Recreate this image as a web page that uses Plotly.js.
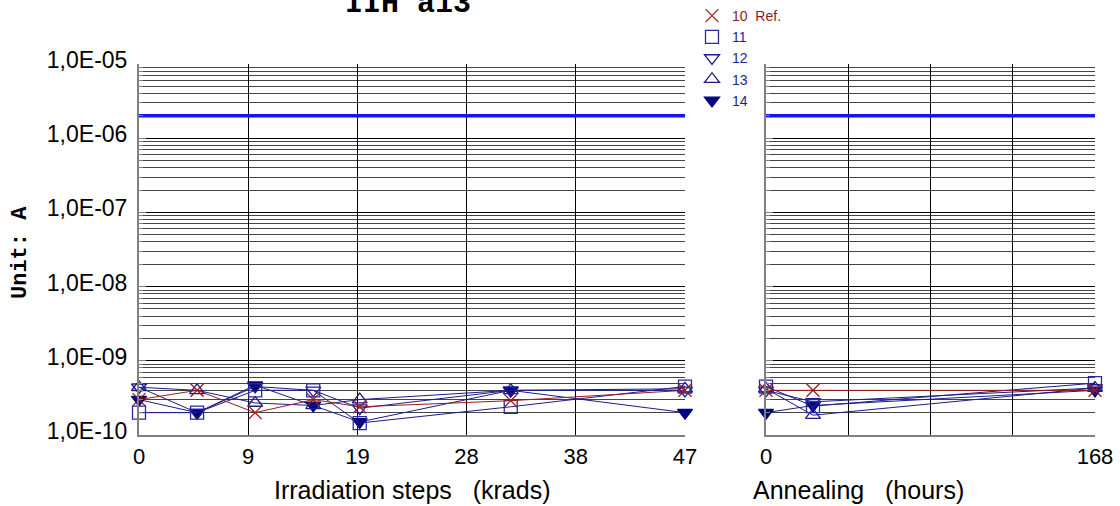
<!DOCTYPE html>
<html><head><meta charset="utf-8">
<script src="https://cdn.plot.ly/plotly-3.0.1.min.js"></script>
<style>html,body{margin:0;padding:0;background:#fff}#chart{width:1120px;height:506px}</style>
</head><body><div id="chart"></div>
<script>
// ---- data ----
const irrSteps = [0, 5, 10, 15, 19, 32, 47];
const annealHours = [0, 24, 168];
const seriesNames = ['10\u00a0\u00a0Ref.', '11', '12', '13', '14'];

const irr10 = [3.0e-10, 4.0e-10, 2.0e-10, 3.0e-10, 2.4e-10, 2.9e-10, 4.0e-10];
const irr11 = [2.0e-10, 2.0e-10, 4.0e-10, 4.0e-10, 1.45e-10, 2.4e-10, 4.5e-10];
const irr12 = [4.4e-10, 2.0e-10, 4.5e-10, 4.0e-10, 2.3e-10, 4.0e-10, 4.0e-10];
const irr13 = [4.4e-10, 4.0e-10, 2.7e-10, 2.5e-10, 3.0e-10, 4.0e-10, 4.2e-10];
const irr14 = [3.0e-10, 2.0e-10, 4.7e-10, 2.5e-10, 1.5e-10, 4.0e-10, 2.0e-10];

const ann10 = [4.0e-10, 4.0e-10, 4.0e-10];
const ann11 = [4.5e-10, 2.45e-10, 5.0e-10];
const ann12 = [4.0e-10, 2.8e-10, 4.3e-10];
const ann13 = [4.2e-10, 1.85e-10, 4.3e-10];
const ann14 = [2.0e-10, 2.5e-10, 4.0e-10];

const limitValue = [2e-6, 2e-6];
const limitIrrX = [0, 47];
const limitAnnX = [0, 168];

const irrTickVals = [0, 9.4, 18.8, 28.2, 37.6, 47];
const irrTickText = ['0', '9', '19', '28', '38', '47'];
const annTickVals = [0, 42, 84, 126, 168];
const annTickText = ['0', '', '', '', '168'];
const yTickVals = [1e-10, 1e-9, 1e-8, 1e-7, 1e-6, 1e-5];
const yTickText = ['1,0E-10', '1,0E-09', '1,0E-08', '1,0E-07', '1,0E-06', '1,0E-05'];

// ---- styles ----
const RED = '#9c1c1c';
const NAVY = '#1c1c8c';
const DARK = '#000080';
const styles = [
  {color: RED, symbol: 'x-thin-open', line: RED},
  {color: '#2a2a9c', symbol: 'square-open', line: NAVY},
  {color: NAVY, symbol: 'triangle-down-open', line: NAVY},
  {color: NAVY, symbol: 'triangle-up-open', line: NAVY},
  {color: DARK, symbol: 'triangle-down', line: NAVY}
];
const irrSeries = [irr10, irr11, irr12, irr13, irr14];
const annSeries = [ann10, ann11, ann12, ann13, ann14];

const minorVals = [];
for (let e = -10; e < -5; e++) for (let m = 2; m <= 9; m++) minorVals.push(m * Math.pow(10, e));

const traces = [];
traces.push({x: limitIrrX, y: limitValue, xaxis: 'x', yaxis: 'y', mode: 'lines',
  line: {color: '#1515f0', width: 3.5}, showlegend: false, hoverinfo: 'skip'});
traces.push({x: limitAnnX, y: limitValue, xaxis: 'x2', yaxis: 'y2', mode: 'lines',
  line: {color: '#1515f0', width: 3.5}, showlegend: false, hoverinfo: 'skip'});

function mk(s) {
  return {symbol: s.symbol, size: 13, color: s.color, line: {color: s.color, width: 1.3}};
}
for (let i = 4; i >= 0; i--) {
  const s = styles[i];
  traces.push({x: irrSteps, y: irrSeries[i], xaxis: 'x', yaxis: 'y', mode: 'lines+markers',
    line: {color: s.line, width: 1}, marker: mk(s), showlegend: false, cliponaxis: false});
  traces.push({x: annealHours, y: annSeries[i], xaxis: 'x2', yaxis: 'y2', mode: 'lines+markers',
    line: {color: s.line, width: 1}, marker: mk(s), showlegend: false, cliponaxis: false});
}
// legend entries
for (let i = 0; i < 5; i++) {
  const s = styles[i];
  const tc = i === 0 ? '#8b1a1a' : '#1f1f8f';
  traces.push({x: [null], y: [null], xaxis: 'x', yaxis: 'y', mode: 'markers', marker: mk(s),
    name: '<span style="color:' + tc + '">' + seriesNames[i] + '</span>', showlegend: true});
}

const YF = {family: 'Liberation Sans, Arial, sans-serif', size: 23, color: '#000'};
const XF = {family: 'Liberation Sans, Arial, sans-serif', size: 22, color: '#000'};
const yBase = {
  type: 'log', range: [-10, -5], tickvals: yTickVals, ticktext: yTickText,
  showgrid: true, gridcolor: '#000', gridwidth: 1,
  showline: true, linecolor: '#808080', linewidth: 2,
  ticks: 'inside', ticklen: 7, tickcolor: '#808080', tickwidth: 1,
  minor: {tickvals: minorVals, showgrid: true, gridcolor: '#444', gridwidth: 1,
    ticks: 'inside', ticklen: 4, tickcolor: '#808080'},
  zeroline: false, tickfont: YF, fixedrange: true,
  domain: [(506 - 435) / 506, (506 - 64) / 506]
};
const xBase = {
  showgrid: true, gridcolor: '#000', gridwidth: 1,
  showline: true, linecolor: '#808080', linewidth: 2,
  ticks: '', zeroline: false, tickfont: XF, ticklabelstandoff: 1, fixedrange: true
};

const layout = {
  width: 1120, height: 506,
  margin: {l: 0, r: 0, t: 0, b: 0},
  paper_bgcolor: '#fff', plot_bgcolor: '#fff',
  title: {text: 'IIH a13', x: 408 / 1120, xanchor: 'center', xref: 'paper',
    y: 1 - 1 / 506, yanchor: 'middle', yref: 'container',
    font: {family: 'Liberation Mono, Courier New, monospace', size: 30, color: '#000', weight: 'bold'}},
  xaxis: Object.assign({}, xBase, {domain: [139 / 1120, 685 / 1120], range: [0, 47],
    tickvals: irrTickVals, ticktext: irrTickText, anchor: 'y'}),
  xaxis2: Object.assign({}, xBase, {domain: [766 / 1120, 1095 / 1120], range: [0, 168],
    tickvals: annTickVals, ticktext: annTickText, anchor: 'y2'}),
  yaxis: Object.assign({}, yBase, {anchor: 'x', ticklabelstandoff: 5, ticklabelshift: -4}),
  yaxis2: Object.assign({}, yBase, {anchor: 'x2', showticklabels: false}),
  showlegend: true,
  legend: {x: 692 / 1120, xanchor: 'left', y: 1, yanchor: 'top', bgcolor: 'rgba(0,0,0,0)',
    font: {family: 'Liberation Sans, Arial, sans-serif', size: 14, color: '#1f1f8f'},
    traceorder: 'normal', itemclick: false, itemdoubleclick: false},
  annotations: [
    {text: 'Irradiation steps\u00a0\u00a0\u00a0(krads)', xref: 'paper', yref: 'paper',
      x: 412 / 1120, y: 1 - 490 / 506, xanchor: 'center', yanchor: 'middle', showarrow: false,
      font: {family: 'Liberation Sans, Arial, sans-serif', size: 25, color: '#000'}},
    {text: 'Annealing\u00a0\u00a0\u00a0(hours)', xref: 'paper', yref: 'paper',
      x: 751 / 1120, y: 1 - 490 / 506, xanchor: 'left', yanchor: 'middle', showarrow: false,
      font: {family: 'Liberation Sans, Arial, sans-serif', size: 25, color: '#000'}},
    {text: 'Unit: A', xref: 'paper', yref: 'paper', textangle: -90,
      x: 20 / 1120, y: 1 - 253 / 506, xanchor: 'center', yanchor: 'middle', showarrow: false,
      font: {family: 'Liberation Mono, Courier New, monospace', size: 22, color: '#000', weight: 'bold'}}
  ]
};

Plotly.newPlot('chart', traces, layout, {displayModeBar: false, staticPlot: true});
</script>
</body></html>
